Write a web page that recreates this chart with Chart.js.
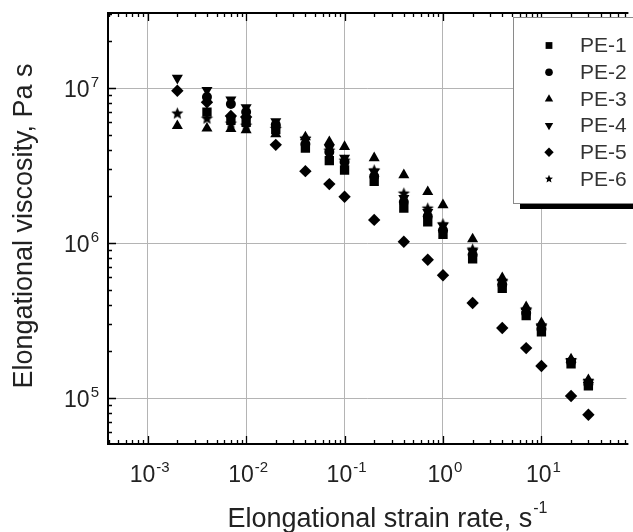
<!DOCTYPE html>
<html>
<head>
<meta charset="utf-8">
<script src="https://cdn.jsdelivr.net/npm/chart.js@4/dist/chart.umd.min.js"></script>
<style>
  html, body { margin: 0; padding: 0; background: #fff; overflow: hidden; }
</style>
</head>
<body>
<canvas id="chart" width="633" height="532"></canvas>
<script>
// strain rate, 1/s
const strainRates = [0.002, 0.004, 0.007, 0.01, 0.02, 0.04, 0.07, 0.1, 0.2, 0.4, 0.7, 1, 2, 4, 7, 10, 20, 30];

// elongational viscosity, Pa s (null = no point)
const pe1 = [null, 7.0e6, 6.2e6, 6.0e6, 5.4e6, 4.1e6, 3.4e6, 2.96e6, 2.5e6, 1.68e6, 1.37e6, 1.14e6, 7.9e5, 5.1e5, 3.4e5, 2.67e5, 1.66e5, 1.2e5];
const pe2 = [null, 8.75e6, 7.9e6, 7.0e6, 5.8e6, 4.35e6, 3.87e6, 3.33e6, 2.7e6, 1.84e6, 1.49e6, 1.21e6, 8.4e5, 5.4e5, 3.54e5, 2.79e5, 1.71e5, 1.23e5];
const pe3 = [5.7e6, 5.5e6, 5.45e6, 5.35e6, 5.05e6, 4.83e6, 4.5e6, 4.18e6, 3.54e6, 2.75e6, 2.14e6, 1.76e6, 1.06e6, 5.95e5, 3.87e5, 3.05e5, 1.78e5, 1.31e5];
const pe4 = [1.16e7, 9.7e6, 8.4e6, 7.5e6, 6.1e6, 4.6e6, 4.1e6, 3.54e6, 2.87e6, 1.95e6, 1.58e6, 1.29e6, 8.75e5, 5.6e5, 3.64e5, 2.87e5, 1.73e5, 1.27e5];
const pe5 = [9.6e6, 8.1e6, 6.6e6, 6.5e6, 4.3e6, 2.91e6, 2.4e6, 1.99e6, 1.41e6, 1.02e6, 7.8e5, 6.2e5, 4.1e5, 2.83e5, 2.1e5, 1.61e5, 1.03e5, 7.8e4];
const pe6 = [6.9e6, 6.4e6, 5.95e6, 5.77e6, 5.5e6, 4.76e6, 3.98e6, 3.43e6, 2.96e6, 2.1e6, 1.68e6, 1.33e6, 9.15e5, 5.7e5, 3.75e5, 2.96e5, 1.76e5, 1.29e5];

const seriesNames = ["PE-1", "PE-2", "PE-3", "PE-4", "PE-5", "PE-6"];
const xTickExps = [-3, -2, -1, 0, 1];
const yTickExps = [5, 6, 7];

const X_MIN = 3.95e-4, X_MAX = 73;
const Y_MIN = 5.05e4, Y_MAX = 3.05e7;

const FONT = "'Liberation Sans', Arial, sans-serif";

function starImage(r) {
  const c = document.createElement("canvas");
  const s = Math.ceil(r * 2 + 2);
  c.width = c.height = s;
  const g = c.getContext("2d");
  g.beginPath();
  for (let i = 0; i < 10; i++) {
    const rr = i % 2 ? r * 0.45 : r;
    const ang = -Math.PI / 2 + i * Math.PI / 5;
    g.lineTo(s / 2 + rr * Math.cos(ang), s / 2 + 0.6 + rr * Math.sin(ang));
  }
  g.closePath();
  g.fillStyle = "#000";
  g.fill();
  return c;
}

const markers = [
  { style: "rect", radius: 6.6, rotation: 0 },
  { style: "circle", radius: 5, rotation: 0 },
  { style: "triangle", radius: 6.4, rotation: 0 },
  { style: "triangle", radius: 6.4, rotation: 180 },
  { style: "rectRot", radius: 6.2, rotation: 0 },
  { style: starImage(6.4), radius: 6.4, rotation: 0 },
];

const allSeries = [pe1, pe2, pe3, pe4, pe5, pe6];

const datasets = allSeries.map((vals, i) => ({
  label: seriesNames[i],
  data: strainRates.map((x, j) => ({ x, y: vals[j] })).filter(p => p.y !== null),
  pointStyle: markers[i].style,
  pointRadius: markers[i].radius,
  pointRotation: markers[i].rotation,
  pointBackgroundColor: "#000",
  pointBorderColor: "#000",
  pointBorderWidth: 0,
  showLine: false,
}));

const isDecade = v => {
  const l = Math.log10(v);
  return Math.abs(l - Math.round(l)) < 1e-6;
};

// little helper for legend markers
function legendMarker(ctx, i, cx, cy) {
  const r = 4.2;
  ctx.fillStyle = "#000";
  ctx.beginPath();
  if (i === 0) {
    ctx.rect(cx - 3.4, cy - 3.4, 6.8, 6.8);
  } else if (i === 1) {
    ctx.arc(cx, cy, 3.8, 0, Math.PI * 2);
  } else if (i === 2) {
    ctx.moveTo(cx, cy - r - 0.5); ctx.lineTo(cx + r, cy + r * 0.6); ctx.lineTo(cx - r, cy + r * 0.6);
  } else if (i === 3) {
    ctx.moveTo(cx, cy + r + 0.5); ctx.lineTo(cx + r, cy - r * 0.6); ctx.lineTo(cx - r, cy - r * 0.6);
  } else if (i === 4) {
    ctx.moveTo(cx, cy - r - 0.5); ctx.lineTo(cx + r + 0.5, cy); ctx.lineTo(cx, cy + r + 0.5); ctx.lineTo(cx - r - 0.5, cy);
  } else {
    for (let k = 0; k < 10; k++) {
      const rr = k % 2 ? r * 0.45 : r;
      const ang = -Math.PI / 2 + k * Math.PI / 5;
      ctx.lineTo(cx + rr * Math.cos(ang), cy + rr * Math.sin(ang));
    }
  }
  ctx.closePath();
  ctx.fill();
}

function powLabel(ctx, exp, x, y, align) {
  const base = "10", sup = String(exp);
  ctx.font = "23px " + FONT;
  const wb = ctx.measureText(base).width;
  ctx.font = "15px " + FONT;
  const ws = ctx.measureText(sup).width;
  const total = wb + ws + 1;
  const left = align === "center" ? x - total / 2 + 2 : x - total;
  ctx.textAlign = "left";
  ctx.textBaseline = "alphabetic";
  ctx.font = "23px " + FONT;
  ctx.fillText(base, left, y);
  ctx.font = "15px " + FONT;
  ctx.fillText(sup, left + wb + 1, y - 10);
}

const framePlugin = {
  id: "frame",
  afterDraw(chart) {
    const { ctx, chartArea: a, scales: { x, y } } = chart;
    ctx.save();

    // inward ticks
    ctx.strokeStyle = "#000";
    ctx.lineWidth = 1.3;
    ctx.beginPath();
    for (let e = -4; e <= 2; e++) {
      for (let m = 1; m <= 9; m++) {
        const v = m * Math.pow(10, e);
        if (v <= X_MIN || v >= X_MAX) continue;
        const px = Math.round(x.getPixelForValue(v)) + 0.5;
        const len = m === 1 ? 8 : 4;
        ctx.moveTo(px, a.bottom); ctx.lineTo(px, a.bottom - len);
        ctx.moveTo(px, a.top); ctx.lineTo(px, a.top + len);
      }
    }
    for (let e = 4; e <= 8; e++) {
      for (let m = 1; m <= 9; m++) {
        const v = m * Math.pow(10, e);
        if (v <= Y_MIN || v >= Y_MAX) continue;
        const py = Math.round(y.getPixelForValue(v)) + 0.5;
        const len = m === 1 ? 8 : 4;
        ctx.moveTo(a.left, py); ctx.lineTo(a.left + len, py);
      }
    }
    ctx.stroke();

    // frame
    ctx.lineWidth = 2;
    ctx.beginPath();
    ctx.moveTo(a.right + 2, a.top); ctx.lineTo(a.left, a.top);
    ctx.lineTo(a.left, a.bottom); ctx.lineTo(a.right + 2, a.bottom);
    ctx.stroke();

    // tick labels
    ctx.fillStyle = "#222";
    xTickExps.forEach(e => powLabel(ctx, e, x.getPixelForValue(Math.pow(10, e)), 482, "center"));
    yTickExps.forEach(e => powLabel(ctx, e, 99, y.getPixelForValue(Math.pow(10, e)) + 9, "right"));

    // axis titles
    ctx.fillStyle = "#222";
    ctx.font = "27px " + FONT;
    const xt = "Elongational strain rate, s";
    const wx = ctx.measureText(xt).width;
    ctx.font = "16px " + FONT;
    const wsx = ctx.measureText("-1").width;
    const xl = 387 - (wx + wsx) / 2;
    ctx.textAlign = "left";
    ctx.font = "27px " + FONT;
    ctx.fillText(xt, xl, 527);
    ctx.font = "16px " + FONT;
    ctx.fillText("-1", xl + wx + 1, 513);

    ctx.save();
    ctx.translate(32, 226);
    ctx.rotate(-Math.PI / 2);
    ctx.textAlign = "center";
    ctx.font = "27px " + FONT;
    ctx.fillText("Elongational viscosity, Pa s", 0, 0);
    ctx.restore();

    // legend box
    const lx = 513, ly = 17, lb = 203;
    ctx.fillStyle = "#000";
    ctx.fillRect(520, lb + 1, 140, 5);
    ctx.fillStyle = "#fff";
    ctx.fillRect(lx, ly, 140, lb - ly);
    ctx.strokeStyle = "#8a8a8a";
    ctx.lineWidth = 1;
    ctx.strokeRect(lx + 0.5, ly + 0.5, 140, lb - ly);
    ctx.font = "21px " + FONT;
    ctx.textBaseline = "middle";
    ctx.textAlign = "left";
    seriesNames.forEach((name, i) => {
      const cy = 45.5 + i * 26.7;
      legendMarker(ctx, i, 549, cy);
      ctx.fillStyle = "#333";
      ctx.fillText(name, 580, cy + 1);
    });

    ctx.restore();
  }
};

const gridColor = c => (c.tick && isDecade(c.tick.value) ? "#b4b4b4" : "rgba(0,0,0,0)");

new Chart(document.getElementById("chart").getContext("2d"), {
  type: "scatter",
  data: { datasets },
  options: {
    responsive: false,
    animation: false,
    devicePixelRatio: 1,
    layout: { padding: { top: 13, right: 0, left: 0, bottom: 0 } },
    plugins: { legend: { display: false }, tooltip: { enabled: false } },
    scales: {
      x: {
        type: "logarithmic",
        min: X_MIN,
        max: X_MAX,
        grid: { color: gridColor, lineWidth: 1, drawTicks: false },
        border: { display: false },
        ticks: { display: false },
        afterFit: s => { s.height = 88; },
      },
      y: {
        type: "logarithmic",
        min: Y_MIN,
        max: Y_MAX,
        grid: { color: gridColor, lineWidth: 1, drawTicks: false },
        border: { display: false },
        ticks: { display: false },
        afterFit: s => { s.width = 108; },
      },
    },
  },
  plugins: [framePlugin],
});
</script>
</body>
</html>
